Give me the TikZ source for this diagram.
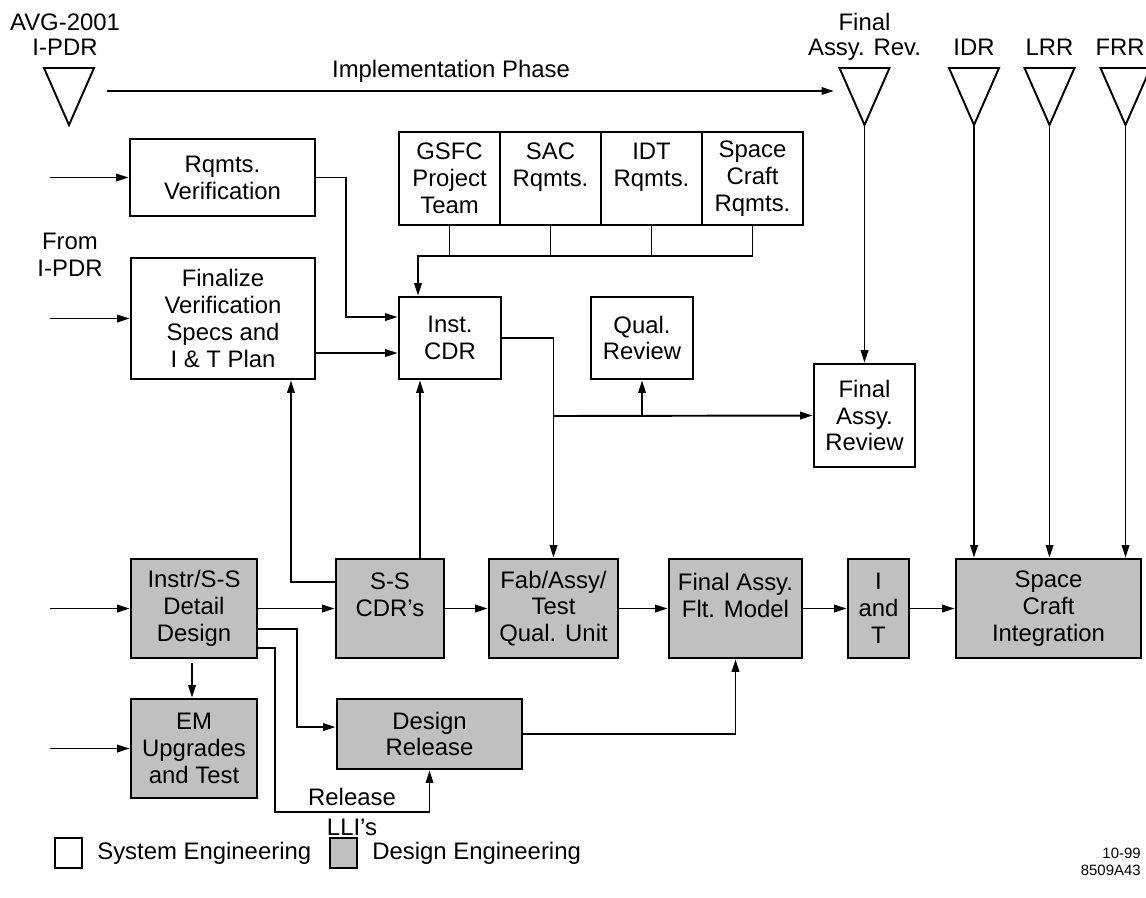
\documentclass[tikz,border=0pt]{standalone}
\usepackage{fontspec}
\setmainfont{Liberation Sans}
\usetikzlibrary{arrows.meta}
\definecolor{desgray}{RGB}{192,192,192}
\tikzset{
  sysbox/.style={draw,line width=1.6pt,fill=white,align=center,inner sep=0pt},
  desbox/.style={sysbox,fill=desgray},
  sz/.style 2 args={minimum width=#1*0.02cm,minimum height=#2*0.02cm},
  wire/.style={line width=1.1pt},
  arr/.style={wire,-{Triangle[length=2.5mm,width=1.5mm]}},
  lbl/.style={inner sep=0pt}
}
\begin{document}
\begin{tikzpicture}[x=0.02cm,y=-0.02cm,font=\fontsize{13.6pt}{15.3pt}\selectfont]
\useasboundingbox (0,0) rectangle (1146,897);
% milestones
\foreach \n/\x in {tPDR/69,tFAR/864.5,tIDR/974,tLRR/1049.5,tFRR/1125.5}{
  \coordinate (\n) at (\x,125);
  \draw[wire] (\n) -- ++(-25,-57) -- ++(50,0) -- cycle;}
\node[lbl,anchor=base] (avg) at (65,30) {AVG-2001};
\node[lbl,anchor=base] (ipdr) at (65,55) {I-PDR};
\node[lbl,anchor=base] (fartop) at (864.5,30) {Final};
\node[lbl,anchor=base] (farbot) at (864.5,55) {Assy. Rev.};
\node[lbl,anchor=base] (idr) at (974,55) {IDR};
\node[lbl,anchor=base] (lrr) at (1049.5,55) {LRR};
\node[lbl,anchor=base east] (frr) at (1145,55) {FRR};
\coordinate (implA) at (107,91);
\coordinate (implB) at (834,91);
\draw[arr] (implA) -- (implB);
\node[lbl] (impl) at (451,71) {Implementation Phase};
\node[lbl,align=center] (from) at (70,255) {From\\I-PDR};
% system engineering
\node[sysbox,sz={185}{77}] (rqv) at (222.5,177.5) {Rqmts.\\Verification};
\node[sysbox,sz={184}{121}] (fin) at (223,318.5) {Finalize\\Verification\\Specs and\\I \& T Plan};
\node[sysbox,sz={102}{82}] (cdr) at (450,338) {Inst.\\CDR};
\node[sysbox,sz={101}{93}] (gsfc) at (449.5,178.5) {GSFC\\Project\\Team};
\node[sysbox,sz={101}{93}] (sac) at (550.5,178.5) {SAC\\Rqmts.\\\mbox{}};
\node[sysbox,sz={101}{93}] (idt) at (651.5,178.5) {IDT\\Rqmts.\\\mbox{}};
\node[sysbox,sz={101}{93}] (scr) at (752.5,178.5) {Space\\Craft\\Rqmts.};
\node[sysbox,sz={102}{82}] (qual) at (642,338) {Qual.\\Review};
\node[sysbox,sz={101}{103}] (far) at (864.5,415.5) {Final\\Assy.\\Review};
% design engineering
\node[desbox,sz={126}{99}] (instr) at (194,608.5) {Instr/S-S\\Detail\\Design};
\node[desbox,sz={108}{99}] (sscdr) at (390,608.5) {S-S\\CDR’s\\\mbox{}};
\node[desbox,sz={129}{99}] (fab) at (553.5,608.5) {Fab/Assy/\\Test\\Qual. Unit};
\node[desbox,sz={133}{99}] (fam) at (735.5,608.5) {Final Assy.\\Flt. Model\\\mbox{}};
\node[desbox,sz={61}{99}] (iat) at (878.5,608.5) {I\\and\\T};
\node[desbox,sz={185}{99}] (sci) at (1048.5,608.5) {Space\\Craft\\Integration};
\node[desbox,sz={126}{99}] (em) at (194,748.5) {EM\\Upgrades\\and Test};
\node[desbox,sz={185}{70}] (drel) at (429.5,734) {Design\\Release};
% inputs from the left
\coordinate (inL) at (50,0);
\foreach \n in {rqv,fin,instr,em} \draw[arr] (\n.west -| inL) -- (\n.west);
% requirement bus
\coordinate (bus) at (418,256);
\foreach \n in {gsfc,sac,idt} \draw[wire] (\n.south) -- (\n.south |- bus);
\draw[arr] (scr.south) |- (bus) -- (bus |- cdr.north);
\draw[arr] (rqv.east) -- ++(30,0) |- ([yshift=0.42cm]cdr.west);
\coordinate (cdrin) at ([yshift=-0.3cm]cdr.west);
\draw[arr] (cdrin -| fin.east) -- (cdrin);
\draw[arr] (cdr.east) -| (fab.north);
\coordinate (jn) at (553.5,416);
\draw[arr] (jn) -- (far.west);
\draw[arr] (jn -| qual.south) -- (qual.south);
\draw[arr] (tFAR) -- (far.north);
\foreach \n in {tIDR,tLRR,tFRR} \draw[arr] (\n) -- (\n |- sci.north);
% bottom flow
\draw[arr] (instr.east) -- (sscdr.west);
\draw[arr] (sscdr.east) -- (fab.west);
\draw[arr] (fab.east) -- (fam.west);
\draw[arr] (fam.east) -- (iat.west);
\draw[arr] (iat.east) -- (sci.west);
\draw[arr] ([yshift=0.53cm]sscdr.west) -| ([xshift=1.36cm]fin.south);
\coordinate (ssup) at ([xshift=0.6cm]sscdr.north);
\draw[arr] (ssup) -- (ssup |- cdr.south);
\draw[arr,shorten <=0.08cm] ([xshift=-0.04cm]instr.south) -- ([xshift=-0.04cm]em.north);
\draw[arr] ([yshift=-0.41cm]instr.east) -- ++(39,0) |- ([yshift=0.14cm]drel.west);
\coordinate (lli) at (429.5,812);
\draw[arr] ([yshift=-0.79cm]instr.east) -- ++(17,0) |- (lli) -- (drel.south);
\draw[arr] (drel.east) -| (fam.south);
\node[lbl] (rel) at (352,797) {Release};
\node[lbl] (llis) at (352,827) {LLI’s};
% legend
\node[sysbox,sz={27}{30}] (legS) at (68.5,853) {};
\node[lbl,anchor=west] (legStxt) at (97,853) {System Engineering};
\node[desbox,sz={27}{30}] (legD) at (343.5,853) {};
\node[lbl,anchor=west] (legDtxt) at (372,853) {Design Engineering};
\node[lbl,align=right,anchor=east,font=\fontsize{8.5pt}{10pt}\selectfont] (code) at (1141,862) {10-99\\8509A43};
\end{tikzpicture}
\end{document}
